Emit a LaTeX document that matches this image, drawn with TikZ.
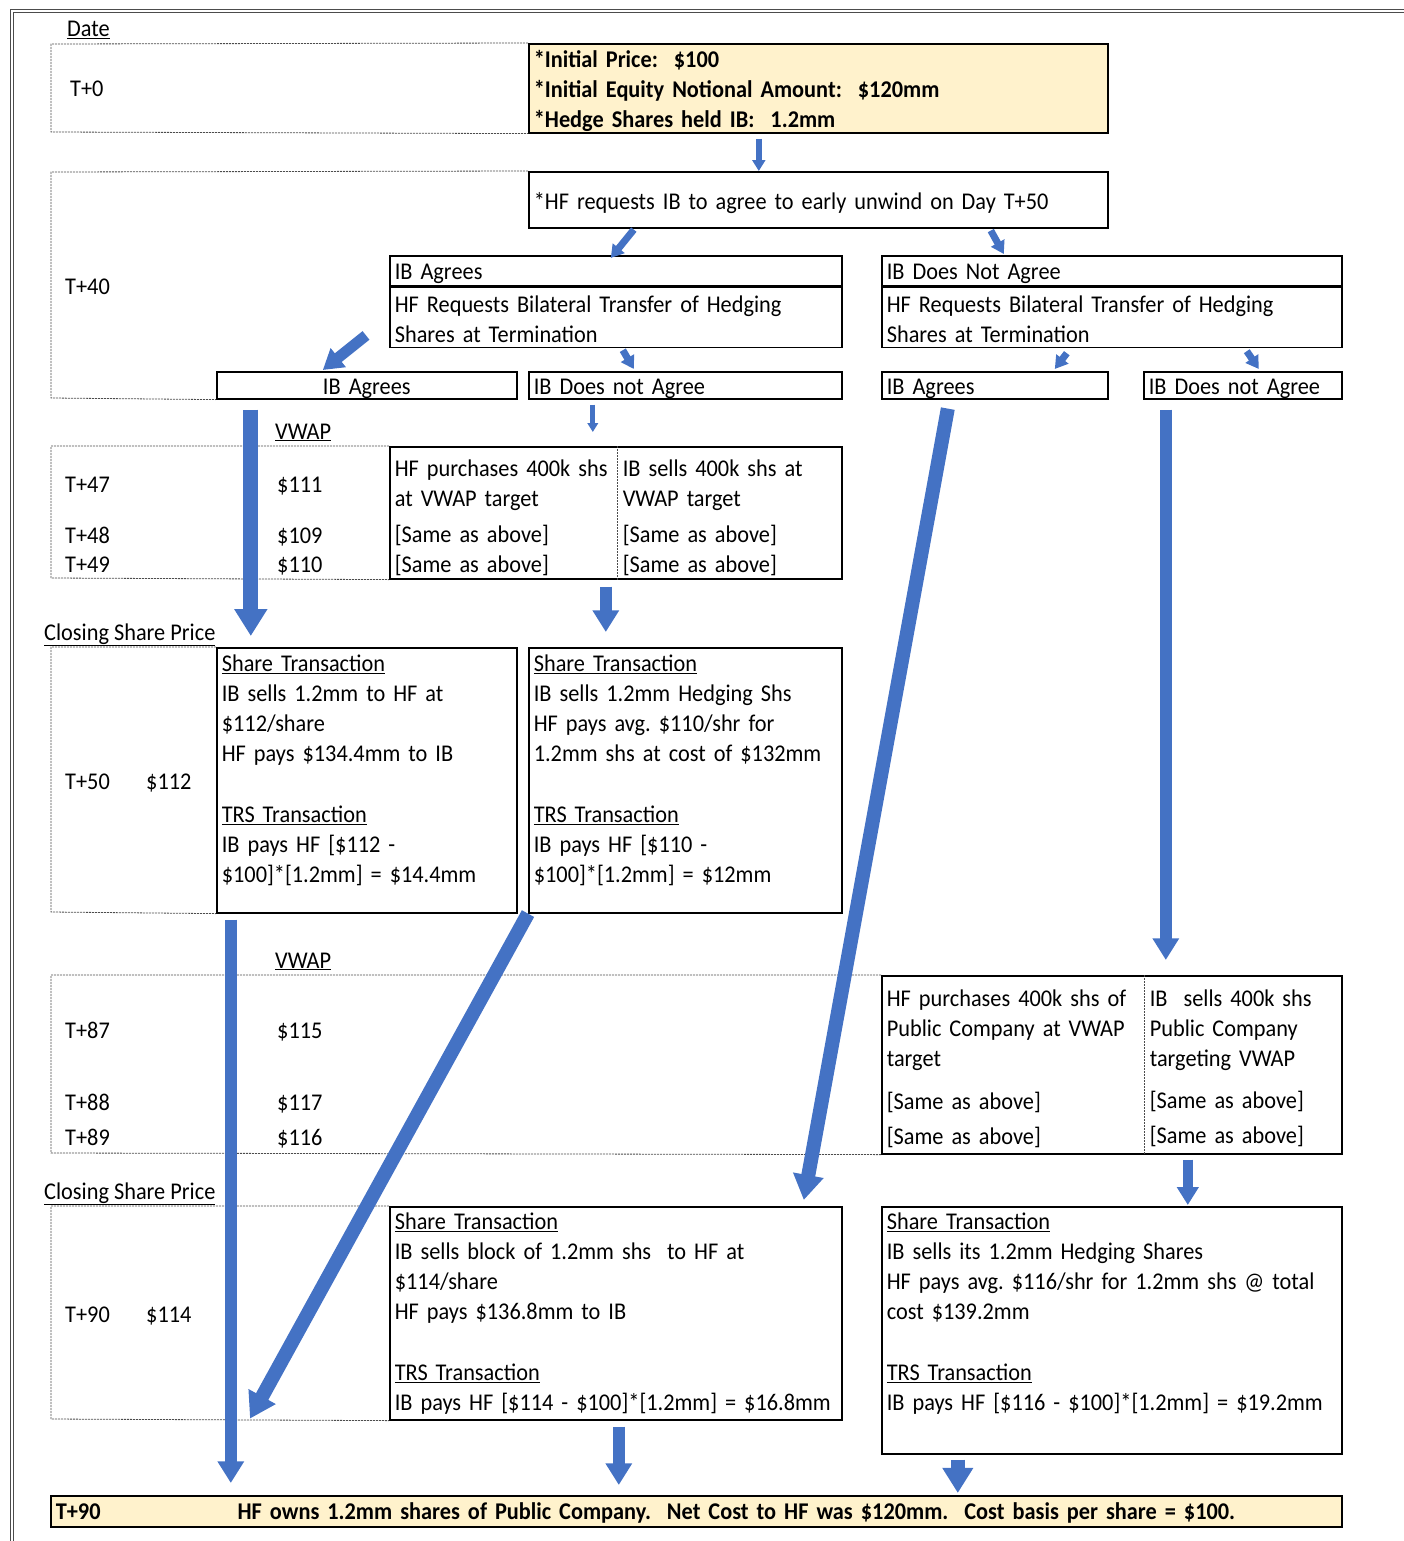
\documentclass[tikz,border=0pt]{standalone}
\usepackage{fontspec}
\setmainfont{Carlito}[FakeStretch=0.93]
\usetikzlibrary{arrows.meta}
\definecolor{flowblue}{HTML}{4472C4}
\definecolor{notefill}{HTML}{FFF2CC}
\newcommand{\dayprice}[4] % {day}{baseline y}{price x}{price}
{
	\node[lbl] (d#1) at (65,#2) {T+#1};
	\node[lbl] (p#1) at (#3,#2) {\$#4};
}
\newcommand{\rowframe}[4] % {top corner}{top y}{bottom y}{bottom corner}
{
	\draw[rowline] (#1) -- (51,#2) -- (51,#3) -- (#4);
}
\tikzset{
	lbl/.style={anchor=base west, inner sep=0pt},
	panel/.style n args={3}{draw, line width=1.6pt, anchor=north west, align=left, inner xsep=5pt, inner ysep=0pt, text width=#1, text height=#2, text depth=#3},
	rowline/.style={draw=black!70, line width=0.8pt, dash pattern=on 2pt off 1pt},
	flow/.style={draw=flowblue, line width=#1, -{Triangle[length=0pt 1.8, width=0pt 2.1]}},
}

\begin{document}
\frenchspacing
\begin{tikzpicture}[x=1pt, y=-1pt, font=\fontsize{24}{30}\selectfont]
	\useasboundingbox (0,0) rectangle (1403,1541);
	\draw[double, double distance=2pt, line width=0.8pt, draw=black!70] (12,11) rectangle (1460,1600);

	% T+0
	\node[lbl] (date) at (67,37) {\underline{Date}};
	\node[panel={569pt}{24pt}{65pt}, fill=notefill] (init) at (528,43) {\bfseries *Initial Price:~ \$100\\{}*Initial Equity Notional Amount:~ \$120mm\\{}*Hedge Shares held IB:~ 1.2mm};
	\rowframe{init.north west}{44}{132}{init.south west}
	\node[lbl] (t0) at (70,97) {T+0};

	% T+40
	\node[panel={569pt}{38pt}{18pt}] (req) at (528,171) {*HF requests IB to agree to early unwind on Day T+50};
	\node[panel={442pt}{24pt}{6pt}] (agH) at (389,255) {IB Agrees};
	\node[panel={442pt}{25pt}{35pt}] (agB) at (agH.south west) {HF Requests Bilateral Transfer of Hedging\\Shares at Termination};
	\node[panel={450pt}{24pt}{6pt}] (naH) at (881,255) {IB Does Not Agree};
	\node[panel={450pt}{25pt}{35pt}] (naB) at (naH.south west) {HF Requests Bilateral Transfer of Hedging\\Shares at Termination};
	\node[panel={290pt}{23pt}{4pt}, align=center] (agL) at (216,371) {IB Agrees};
	\node[panel={303pt}{23pt}{4pt}] (naL) at (528,371) {IB Does not Agree};
	\node[panel={216pt}{23pt}{4pt}] (agR) at (881,371) {IB Agrees};
	\node[panel={188pt}{23pt}{4pt}] (naR) at (1143,371) {IB Does not Agree};
	\rowframe{req.north west}{172}{398}{agL.south west}
	\node[lbl] (t40) at (65,294) {T+40};

	% T+47 to T+49
	\node[lbl] (vwap1) at (275,439) {\underline{VWAP}};
	\node[panel={442pt}{30pt}{102pt}] (vw1) at (389,446) {HF purchases 400k shs\\at VWAP target\\[6pt]{}[Same as above]\\{}[Same as above]};
	\node[panel={214pt}{30pt}{102pt}, draw=none] (vw1r) at (617,446) {IB sells 400k shs at\\VWAP target\\[6pt]{}[Same as above]\\{}[Same as above]};
	\draw[rowline] (vw1r.north west) -- (vw1r.south west);
	\rowframe{vw1.north west}{446}{578}{vw1.south west}
	\dayprice{47}{492}{277}{111}
	\dayprice{48}{543}{277}{109}
	\dayprice{49}{572}{277}{110}

	% T+50
	\node[lbl] (csp1) at (44,640) {\underline{Closing Share Price}};
	\node[panel={290pt}{24pt}{241pt}] (sL) at (216,647) {\underline{Share Transaction}\\IB sells 1.2mm to HF at\\\$112/share\\HF pays \$134.4mm to IB\\[31pt]\underline{TRS Transaction}\\IB pays HF [\$112 -\\\$100]*[1.2mm] = \$14.4mm};
	\node[panel={303pt}{24pt}{241pt}] (sM) at (528,647) {\underline{Share Transaction}\\IB sells 1.2mm Hedging Shs\\HF pays avg. \$110/shr for\\1.2mm shs at cost of \$132mm\\[31pt]\underline{TRS Transaction}\\IB pays HF [\$110 -\\\$100]*[1.2mm] = \$12mm};
	\rowframe{sL.north west}{647}{912}{sL.south west}
	\dayprice{50}{789}{146}{112}

	% T+87 to T+89
	\node[lbl] (vwap2) at (275,968) {\underline{VWAP}};
	\node[panel={450pt}{31pt}{147pt}] (vw2) at (881,975) {HF purchases 400k shs of\\Public Company at VWAP\\target\\[13pt]{}[Same as above]\\[5pt]{}[Same as above]};
	\node[panel={187pt}{31pt}{147pt}, draw=none] (vw2r) at (1144,975) {IB\ \ sells 400k shs\\Public Company\\targeting VWAP\\[12pt]{}[Same as above]\\[5pt]{}[Same as above]};
	\draw[rowline] (vw2r.north west) -- (vw2r.south west);
	\rowframe{vw2.north west}{975}{1153}{vw2.south west}
	\dayprice{87}{1038}{277}{115}
	\dayprice{88}{1110}{277}{117}
	\dayprice{89}{1145}{277}{116}

	% T+90
	\node[lbl] (csp2) at (44,1199) {\underline{Closing Share Price}};
	\node[panel={442pt}{23pt}{190pt}] (fM) at (389,1206) {\underline{Share Transaction}\\IB sells block of 1.2mm shs~ to HF at\\\$114/share\\HF pays \$136.8mm to IB\\[31pt]\underline{TRS Transaction}\\IB pays HF [\$114 - \$100]*[1.2mm] = \$16.8mm};
	\node[panel={450pt}{23pt}{224pt}] (fR) at (881,1206) {\underline{Share Transaction}\\IB sells its 1.2mm Hedging Shares\\HF pays avg. \$116/shr for 1.2mm shs @ total\\cost \$139.2mm\\[31pt]\underline{TRS Transaction}\\IB pays HF [\$116 - \$100]*[1.2mm] = \$19.2mm};
	\rowframe{fM.north west}{1206}{1419}{fM.south west}
	\dayprice{90}{1322}{146}{114}
	\node[panel={1281pt}{24pt}{7pt}, fill=notefill] (bar) at (50,1495) {\bfseries T+90\hspace{137pt}HF owns 1.2mm shares of Public Company.~ Net Cost to HF was \$120mm.~ Cost basis per share = \$100.};

	% arrows
	\draw[flow=6pt] ([xshift=-59.5pt, yshift=-5pt]init.south) -- ([xshift=-59.5pt]req.north);
	\draw[flow=7pt] ([xshift=-184.5pt, yshift=-1pt]req.south) -- ([xshift=-5pt, yshift=-3pt]agH.north);
	\draw[flow=7pt] ([xshift=172.5pt, yshift=-2pt]req.south) -- ([xshift=-108pt, yshift=1pt]naH.north);
	\draw[flow=11pt] ([xshift=-23pt, yshift=-18pt]agB.west) -- ([xshift=-44pt, yshift=1pt]agL.north);
	\draw[flow=7pt] ([xshift=7pt, yshift=-2pt]agB.south) -- ([xshift=-51.5pt, yshift=2pt]naL.north);
	\draw[flow=7pt] ([xshift=-45pt, yshift=-5pt]naB.south) -- ([xshift=60pt, yshift=2pt]agR.north);
	\draw[flow=7pt] ([xshift=135pt, yshift=-3pt]naB.south) -- ([xshift=16pt, yshift=2pt]naR.north);
	\draw[flow=15pt] ([xshift=-116pt, yshift=-10pt]agL.south) -- ([xshift=-116pt, yshift=11pt]sL.north);
	\draw[flow=5pt] ([xshift=-92.5pt, yshift=-5pt]naL.south) -- ([xshift=-23pt, yshift=14pt]vw1.north);
	\draw[flow=12pt] ([xshift=-10pt, yshift=-7pt]vw1.south) -- ([xshift=-79.5pt, yshift=15pt]sM.north);
	\draw[flow=14pt] ([xshift=-47pt, yshift=-9pt]agR.south) -- ([xshift=188pt, yshift=6pt]fM.north);
	\draw[flow=12pt] ([xshift=-77pt, yshift=-10pt]naR.south) -- ([xshift=54pt, yshift=15pt]vw2.north);
	\draw[flow=12pt] ([xshift=-136pt, yshift=-6pt]sL.south) -- ([xshift=-465.5pt, yshift=12pt]bar.north);
	\draw[flow=14pt] (sM.south west) -- ([xshift=-139pt, yshift=2pt]fM.south west);
	\draw[flow=10pt] ([xshift=76pt, yshift=-5pt]vw2.south) -- ([xshift=76pt, yshift=1pt]fR.north);
	\draw[flow=12pt] ([xshift=3pt, yshift=-6pt]fM.south) -- ([xshift=-77.5pt, yshift=10pt]bar.north);
	\draw[flow=14pt] ([xshift=-154pt, yshift=-5pt]fR.south) -- ([xshift=261.5pt, yshift=2pt]bar.north);
\end{tikzpicture}
\end{document}
